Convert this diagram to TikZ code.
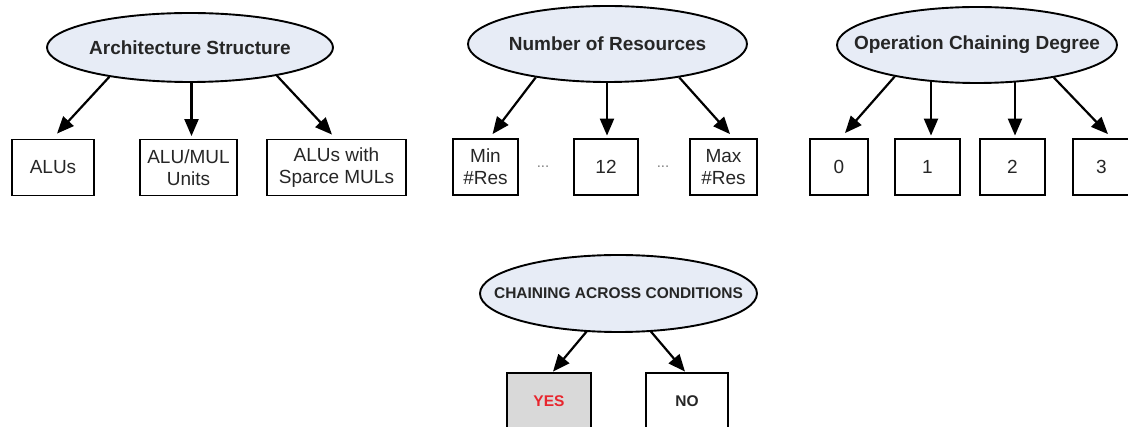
\documentclass[tikz,border=0pt]{standalone}
\usepackage{fontspec}
\setmainfont{Liberation Sans}
\usetikzlibrary{shapes.geometric,arrows.meta,backgrounds}
\definecolor{topicfill}{RGB}{231,236,246}
\definecolor{inkgray}{RGB}{38,38,38}
\definecolor{yesfill}{RGB}{217,217,217}
\definecolor{yesred}{RGB}{232,38,46}
\tikzset{
  topic/.style={ellipse, draw=black, line width=1.9pt, fill=topicfill,
    inner xsep=-40pt, inner ysep=0pt, text=inkgray,
    font=\bfseries\fontsize{19}{22}\selectfont},
  choice/.style={rectangle, draw=black, line width=1.8pt, fill=white,
    minimum height=56pt, inner sep=0pt, align=center, text=inkgray,
    font=\fontsize{19}{22}\selectfont},
  gap/.style={text=gray, font=\fontsize{15}{16}\selectfont},
  arr/.style={line width=2.2pt, -{Triangle[length=17pt,width=14pt]}},
}
\begin{document}
\begin{tikzpicture}[x=1pt,y=-1pt]
\useasboundingbox (0,0) rectangle (1128,427);
\clip (0,0) rectangle (1128,427);

% architecture structure
\node[topic, minimum width=286pt, minimum height=69pt] (e1) at (190,47.5) {Architecture Structure};
\node[choice, minimum width=82pt]  (b1) at (53,167.5)    {ALUs};
\node[choice, minimum width=97pt]  (b2) at (188.5,167.5) {ALU/MUL\\Units};
\node[choice, minimum width=139pt] (b3) at (336.5,167.5) {ALUs with\\Sparce MULs};

% number of resources
\node[topic, minimum width=279pt, minimum height=76pt] (e2) at (607.5,44) {Number of Resources};
\node[choice, minimum width=65pt] (b4) at (485.5,167) {Min\\\#Res};
\node[choice, minimum width=64pt] (b5) at (606,167)   {12};
\node[choice, minimum width=67pt] (b6) at (723.5,167) {Max\\\#Res};
\node[gap] (d1) at (543,167) {...};
\node[gap] (d2) at (663,167) {...};

% operation chaining degree
\node[topic, minimum width=280pt, minimum height=76pt] (e3) at (977,45) {Operation Chaining Degree};
\node[choice, minimum width=58pt] (b7)  at (839,167)    {0};
\node[choice, minimum width=65pt] (b8)  at (927.5,167)  {1};
\node[choice, minimum width=65pt] (b9)  at (1012.5,167) {2};
\node[choice, minimum width=57pt] (b10) at (1101.5,167) {3};

% chaining across conditions
\node[topic, minimum width=277pt, minimum height=77pt,
      font=\bfseries\fontsize{15.5}{18}\selectfont] (e4) at (618.5,293.5) {CHAINING ACROSS CONDITIONS};
\node[choice, minimum width=84pt, fill=yesfill, text=yesred,
      font=\bfseries\fontsize{15.5}{18}\selectfont] (yes) at (549,401) {YES};
\node[choice, minimum width=82pt,
      font=\bfseries\fontsize{15.5}{18}\selectfont] (no) at (687,401) {NO};

\begin{scope}[on background layer]
  \draw[arr] (e1.200) -- ([xshift=4pt,yshift=5pt]b1.north);
  \draw[arr] ([xshift=3pt]b2.north |- e1.center) -- ([xshift=3pt,yshift=2.5pt]b2.north);
  \draw[arr] (e1.342) -- ([xshift=-4.5pt,yshift=4pt]b3.north);

  \draw[arr] (e2.205) -- ([xshift=7pt,yshift=4pt]b4.north);
  \draw[arr] ([xshift=1pt]b5.north |- e2.center) -- ([xshift=1pt,yshift=2.5pt]b5.north);
  \draw[arr] (e2.335) -- ([xshift=6.5pt,yshift=4pt]b6.north);

  \draw[arr] (e3.201) -- ([xshift=6pt,yshift=5pt]b7.north);
  \draw[arr] ([xshift=3.5pt]b8.north |- e3.center) -- ([xshift=3.5pt,yshift=2.5pt]b8.north);
  \draw[arr] ([xshift=2.5pt]b9.north |- e3.center) -- ([xshift=2.5pt,yshift=2.5pt]b9.north);
  \draw[arr] (e3.337) -- ([xshift=6.5pt,yshift=4pt]b10.north);

  \draw[arr] (e4.center) -- ([xshift=4pt,yshift=0.5pt]yes.north);
  \draw[arr] (e4.center) -- ([xshift=-2pt,yshift=0.5pt]no.north);
\end{scope}
\end{tikzpicture}
\end{document}
